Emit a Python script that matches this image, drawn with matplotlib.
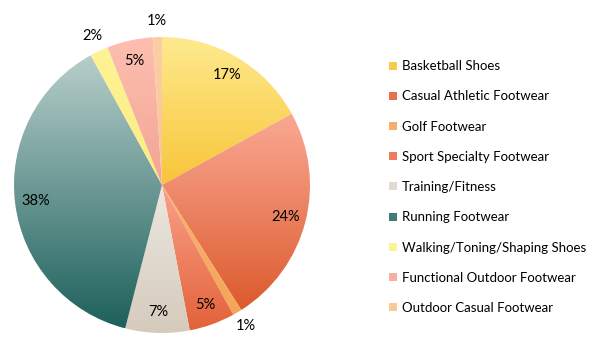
import numpy as np
import matplotlib
matplotlib.use("Agg")
import matplotlib.pyplot as plt
from matplotlib.colors import LinearSegmentedColormap
from matplotlib.lines import Line2D

plt.rcParams['font.family'] = ['Lato', 'DejaVu Sans']

categories = ["Basketball Shoes", "Casual Athletic Footwear", "Golf Footwear",
              "Sport Specialty Footwear", "Training/Fitness", "Running Footwear",
              "Walking/Toning/Shaping Shoes", "Functional Outdoor Footwear",
              "Outdoor Casual Footwear"]
values = [17, 24, 1, 5, 7, 38, 2, 5, 1]
top_colors = ["#FEEA8E", "#FAA993", "#F8B46A", "#F9A28C", "#ECE7DF", "#B8CFCC",
              "#FEF396", "#FDBFB1", "#FBCFA6"]
bottom_colors = ["#F8C53A", "#DC5A2D", "#F4A558", "#E3623A", "#D5CBBD", "#1D605B",
                 "#FCEB80", "#F2A492", "#F8C493"]
legend_colors = ["#F8CB48", "#E8714F", "#F5AE6B", "#EE7C5C", "#E0DAD0", "#3F7C77",
                 "#FDF29A", "#F8AFA0", "#FAC99A"]

W, H = 603, 354
fig = plt.figure(figsize=(W / 100, H / 100), dpi=100)
cx, cy, R = 162, 169, 148
half = 162
ax = fig.add_axes([(cx - half) / W, (cy - half) / H, 2 * half / W, 2 * half / H])
lim = half / R
ax.set_xlim(-lim, lim)
ax.set_ylim(-lim, lim)
ax.set_aspect('equal')
ax.axis('off')

wedges, _ = ax.pie(values, startangle=90, counterclock=False, radius=1,
                   colors=legend_colors, wedgeprops=dict(linewidth=0))
total = sum(values)
cum = 0
for w, v, tc, bc in zip(wedges, values, top_colors, bottom_colors):
    verts = w.get_path().vertices
    verts = w.get_patch_transform().transform(verts)
    x0, x1 = verts[:, 0].min(), verts[:, 0].max()
    y0, y1 = verts[:, 1].min(), verts[:, 1].max()
    cmap = LinearSegmentedColormap.from_list("g", [bc, tc])
    grad = np.linspace(0, 1, 256).reshape(-1, 1)
    w.set_facecolor('none')
    im = ax.imshow(grad, cmap=cmap, origin='lower', aspect='auto',
                   extent=[x0, x1, y0, y1], interpolation='bilinear', zorder=1)
    im.set_clip_path(w)
    mid = (cum + v / 2) / total * 2 * np.pi
    r = 1.11 if v <= 2 else 0.86
    ax.text(r * np.sin(mid), r * np.cos(mid), f"{v}%", ha='center', va='center',
            fontsize=10.5, color='black', zorder=3)
    cum += v
ax.set_xlim(-lim, lim)
ax.set_ylim(-lim, lim)

handles = [Line2D([], [], marker='s', linestyle='none', markersize=6,
                  markerfacecolor=c, markeredgewidth=0) for c in legend_colors]
leg = fig.legend(handles, categories, loc='upper left',
                 bbox_to_anchor=(383 / W, 1 - 55 / H), frameon=False,
                 fontsize=9.5, labelspacing=1.38, handlelength=0.7,
                 handletextpad=0.35, borderaxespad=0)

fig.savefig("out.png", dpi=100)
